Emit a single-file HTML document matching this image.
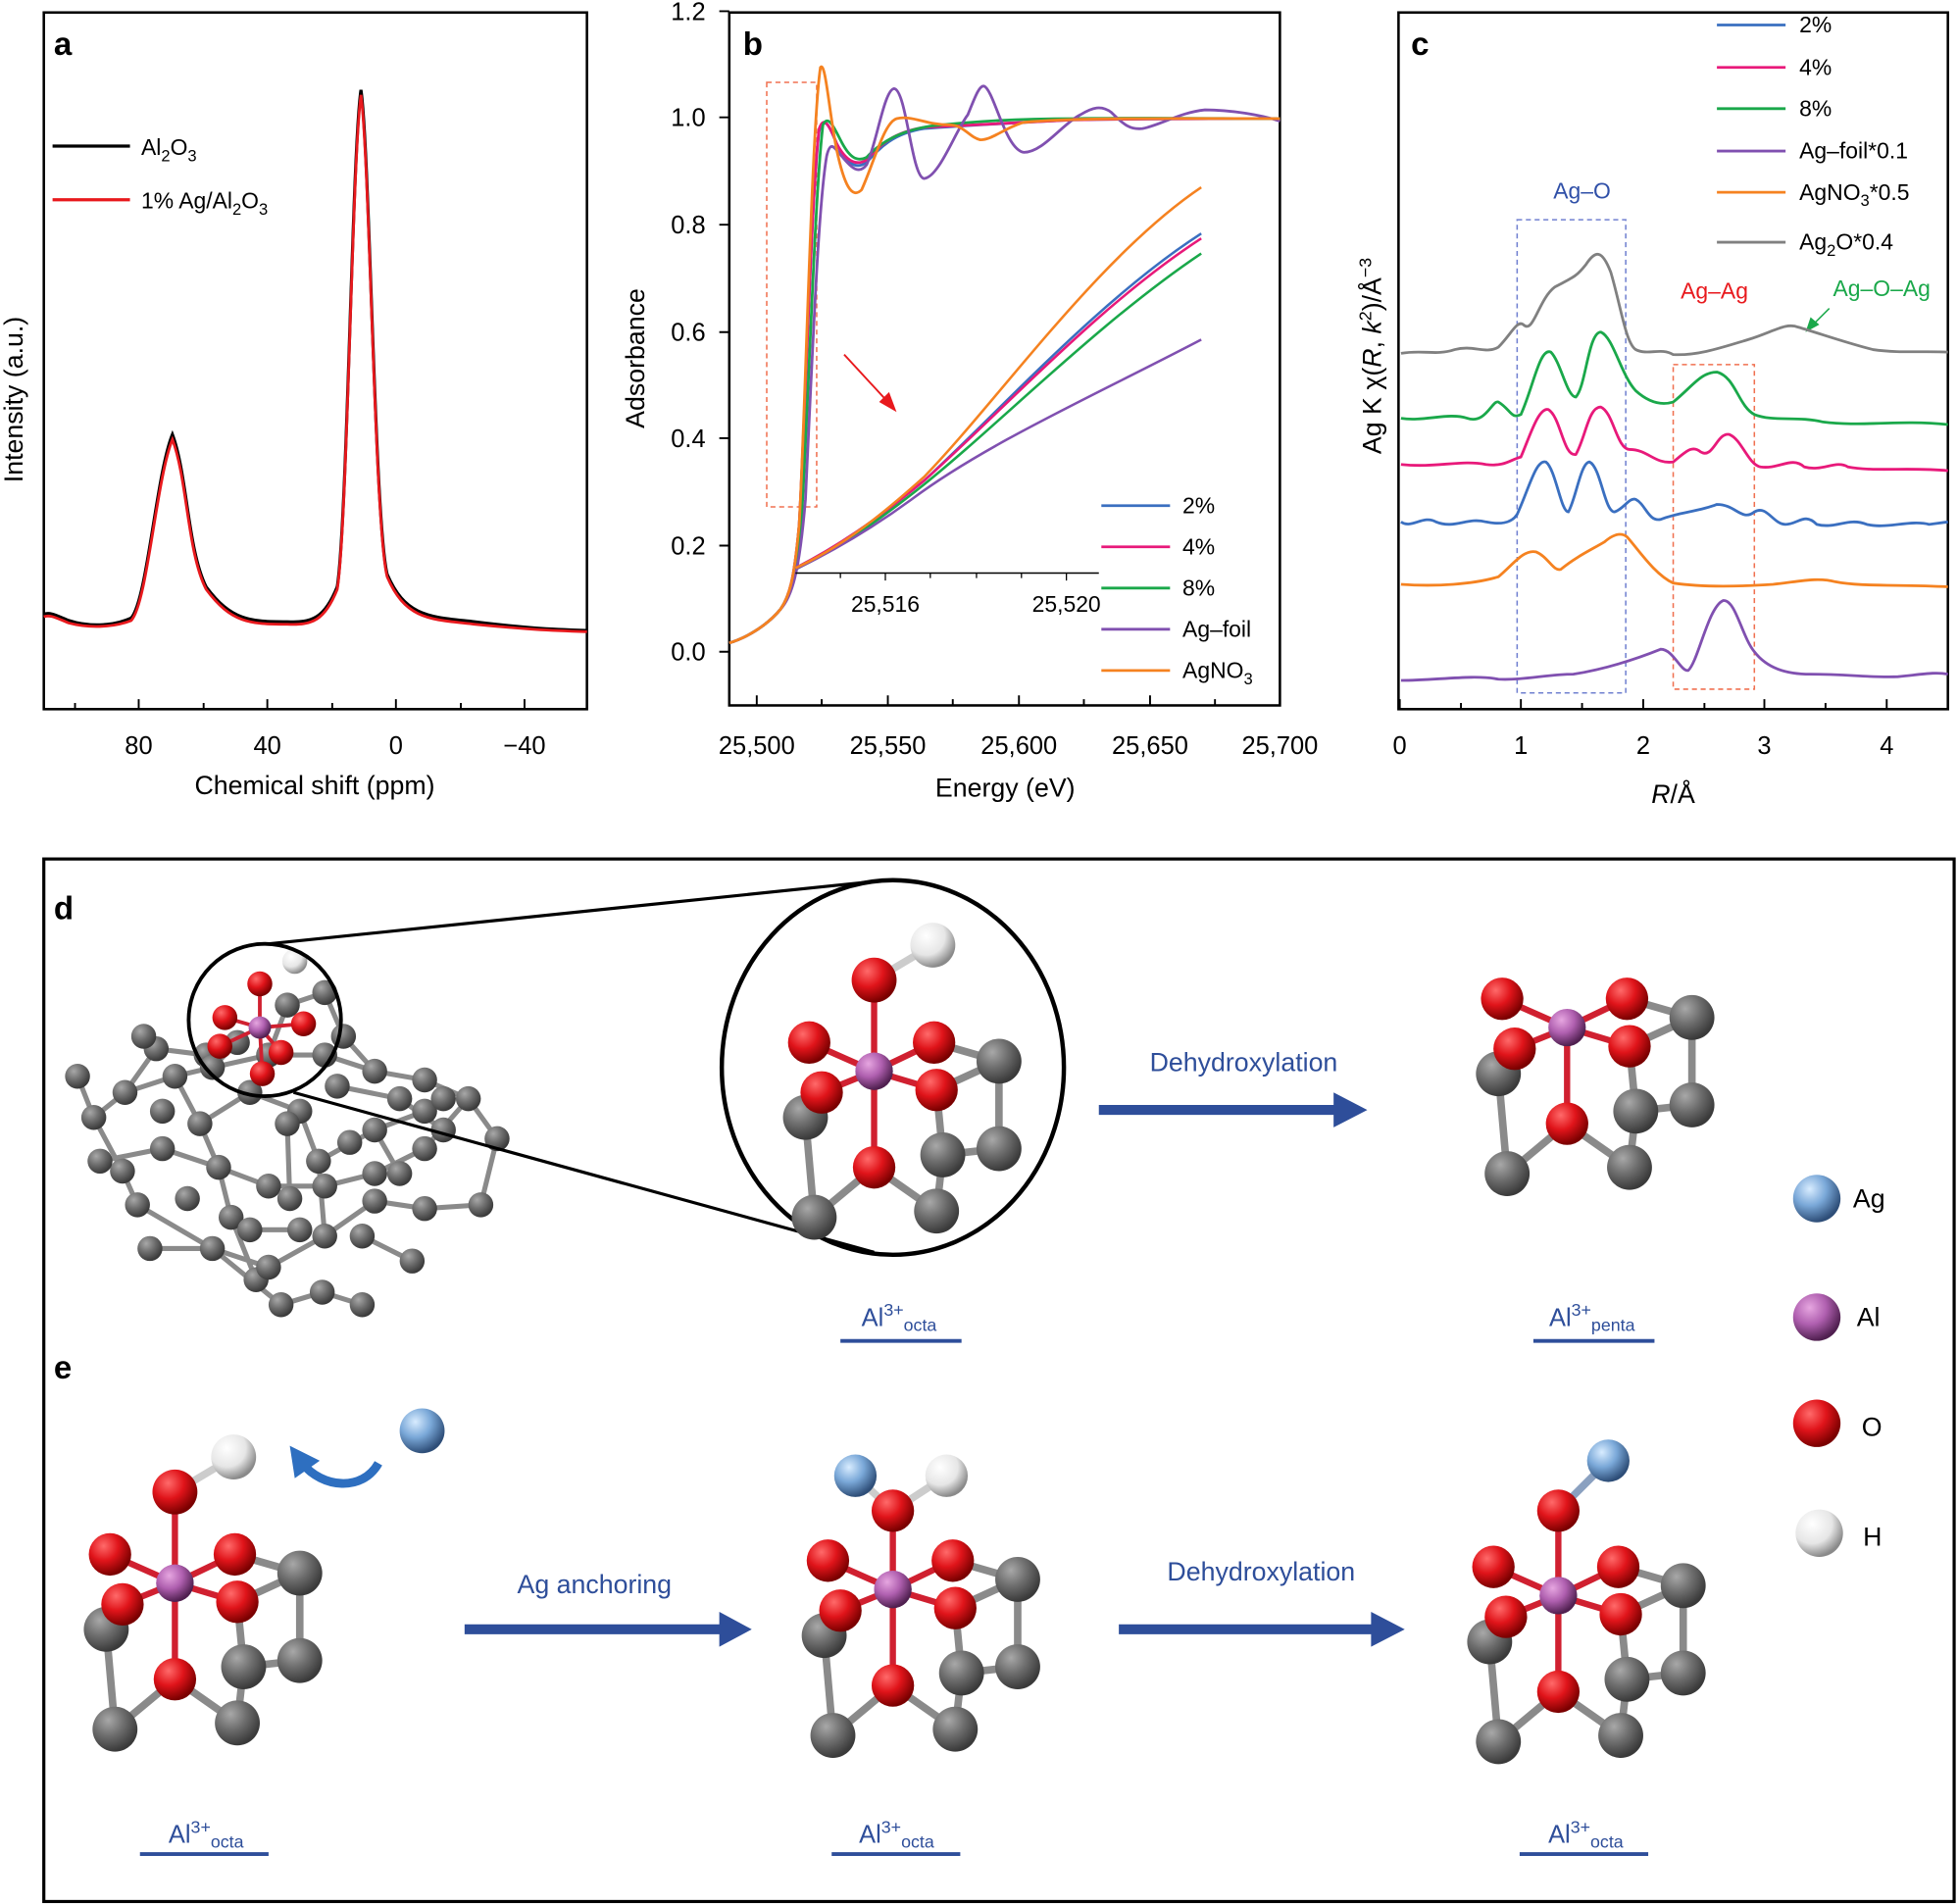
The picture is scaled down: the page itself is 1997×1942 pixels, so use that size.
<!DOCTYPE html>
<html><head><meta charset="utf-8"><style>
html,body{margin:0;padding:0;background:#fff}
svg{display:block}
text{font-family:"Liberation Sans",Arial,sans-serif}
</style></head><body>
<svg width="1997" height="1942" viewBox="0 0 1568 1525" xmlns="http://www.w3.org/2000/svg">
<defs>
<radialGradient id="gG" cx="35%" cy="30%" r="70%"><stop offset="0" stop-color="#a8a8a8"/><stop offset="0.5" stop-color="#6e6e6e"/><stop offset="1" stop-color="#3a3a3a"/></radialGradient>
<radialGradient id="gR" cx="35%" cy="30%" r="70%"><stop offset="0" stop-color="#ff6a6a"/><stop offset="0.5" stop-color="#e0141a"/><stop offset="1" stop-color="#7a0000"/></radialGradient>
<radialGradient id="gP" cx="35%" cy="30%" r="70%"><stop offset="0" stop-color="#e6a6e0"/><stop offset="0.5" stop-color="#b060b0"/><stop offset="1" stop-color="#502050"/></radialGradient>
<radialGradient id="gW" cx="35%" cy="30%" r="70%"><stop offset="0" stop-color="#ffffff"/><stop offset="0.6" stop-color="#e6e6e6"/><stop offset="1" stop-color="#8a8a8a"/></radialGradient>
<radialGradient id="gB" cx="35%" cy="30%" r="70%"><stop offset="0" stop-color="#d8ecff"/><stop offset="0.5" stop-color="#7aa8d8"/><stop offset="1" stop-color="#2e4e78"/></radialGradient>
<g id="mol">
 <g stroke="#8a8a8a" stroke-width="6" fill="none">
  <path d="M85 1305 L92 1385 M98 1285 L85 1305 M140 1345 L92 1385 M140 1345 L190 1380 M190 1283 L240 1260 L240 1330 L195 1335 L190 1380 M188 1245 L240 1260 M190 1283 L195 1335"/>
 </g>
 <g stroke="#d02030" stroke-width="5"><path d="M140 1268 L88 1245 M140 1268 L98 1285 M140 1268 L188 1245 M140 1268 L190 1283 M140 1268 L140 1345"/></g>
 <circle cx="85" cy="1305" r="18" fill="url(#gG)"/><circle cx="92" cy="1385" r="18" fill="url(#gG)"/><circle cx="190" cy="1380" r="18" fill="url(#gG)"/><circle cx="240" cy="1260" r="18" fill="url(#gG)"/><circle cx="240" cy="1330" r="18" fill="url(#gG)"/><circle cx="195" cy="1335" r="18" fill="url(#gG)"/>
 <circle cx="88" cy="1245" r="17" fill="url(#gR)"/><circle cx="98" cy="1285" r="17" fill="url(#gR)"/><circle cx="188" cy="1245" r="17" fill="url(#gR)"/><circle cx="190" cy="1283" r="17" fill="url(#gR)"/><circle cx="140" cy="1345" r="17" fill="url(#gR)"/>
 <circle cx="140" cy="1268" r="15" fill="url(#gP)"/>
</g>
</defs>

<!-- Panel a -->
<rect x="35" y="10" width="435" height="558" fill="none" stroke="#000" stroke-width="2"/>
<text x="43" y="44" font-size="26" font-weight="bold">a</text>
<g stroke="#000" stroke-width="1.5"><path d="M111 568v-8M214 568v-8M317 568v-8M420 568v-8M60 568v-5M163 568v-5M266 568v-5M369 568v-5"/></g>
<g font-size="20" text-anchor="middle"><text x="111" y="604">80</text><text x="214" y="604">40</text><text x="317" y="604">0</text><text x="420" y="604">−40</text></g>
<text x="252" y="636" font-size="21" text-anchor="middle">Chemical shift (ppm)</text>
<text transform="translate(18,320) rotate(-90)" font-size="21" text-anchor="middle">Intensity (a.u.)</text>
<path d="M35 492 C40 490 45 493 55 497 C70 502 90 502 105 495 C118 480 125 380 138 348 C150 380 150 440 165 470 C185 497 200 498 230 498 C250 499 260 495 270 470 C278 420 282 120 289 72 C296 120 300 420 310 460 C325 495 345 494 380 498 C420 503 440 504 470 505" fill="none" stroke="#000" stroke-width="2.5"/>
<path d="M35 494 C40 492 45 495 55 499 C70 503 90 503 105 497 C118 483 125 384 138 352 C150 384 150 443 165 472 C185 499 200 500 230 500 C250 501 260 497 270 472 C278 424 282 126 289 76 C296 126 300 424 310 462 C325 497 345 496 380 500 C420 504 440 505 470 506" fill="none" stroke="#e8191d" stroke-width="2.2"/>
<line x1="42" y1="117" x2="104" y2="117" stroke="#000" stroke-width="2.5"/>
<text x="113" y="124" font-size="18">Al<tspan font-size="13" dy="5">2</tspan><tspan dy="-5">O</tspan><tspan font-size="13" dy="5">3</tspan></text>
<line x1="42" y1="160" x2="104" y2="160" stroke="#e8191d" stroke-width="2.5"/>
<text x="113" y="167" font-size="18">1% Ag/Al<tspan font-size="13" dy="5">2</tspan><tspan dy="-5">O</tspan><tspan font-size="13" dy="5">3</tspan></text>

<!-- Panel b -->
<rect x="584" y="10" width="441" height="555" fill="none" stroke="#000" stroke-width="2"/>
<text x="595" y="44" font-size="26" font-weight="bold">b</text>
<g stroke="#000" stroke-width="1.5"><path d="M584 522h-8M584 437h-8M584 351h-8M584 266h-8M584 180h-8M584 94h-8M584 9h-8M606 565v-8M711 565v-8M816 565v-8M921 565v-8M658 565v-5M763 565v-5M868 565v-5M973 565v-5"/></g>
<g font-size="20" text-anchor="end"><text x="565" y="529">0.0</text><text x="565" y="444">0.2</text><text x="565" y="358">0.4</text><text x="565" y="273">0.6</text><text x="565" y="187">0.8</text><text x="565" y="101">1.0</text><text x="565" y="16">1.2</text></g>
<g font-size="20" text-anchor="middle"><text x="606" y="604">25,500</text><text x="711" y="604">25,550</text><text x="816" y="604">25,600</text><text x="921" y="604">25,650</text><text x="1025" y="604">25,700</text></g>
<text x="805" y="638" font-size="21" text-anchor="middle">Energy (eV)</text>
<text transform="translate(516,287) rotate(-90)" font-size="21" text-anchor="middle">Adsorbance</text>
<rect x="614" y="66" width="40" height="340" fill="none" stroke="#f07050" stroke-width="1.2" stroke-dasharray="4,3"/>
<path d="M584 515 C600 510 615 500 625 488 C632 478 636 465 640 420 C645 330 650 150 656 105 C660 92 664 100 670 115 C678 132 686 136 694 130 C705 118 715 107 740 103 C780 100 820 98 860 96 C920 95 980 95 1025 95" fill="none" stroke="#3a6fc0" stroke-width="2.2"/>
<path d="M584 515 C600 510 615 500 625 488 C632 478 636 465 640 420 C645 330 650 150 656 103 C660 92 664 100 670 115 C678 130 686 133 694 128 C705 116 715 106 740 102 C780 100 820 98 860 96 C920 95 980 95 1025 95" fill="none" stroke="#e8197a" stroke-width="2.2"/>
<path d="M584 515 C600 510 615 500 625 488 C632 478 636 465 641 430 C647 340 652 160 659 100 C663 92 667 100 673 112 C680 126 686 130 694 126 C705 114 720 105 745 101 C780 97 820 95 860 95 C920 94 980 95 1025 95" fill="none" stroke="#1aa84a" stroke-width="2.2"/>
<path d="M584 515 C600 510 615 500 625 488 C634 478 640 460 645 400 C652 250 656 160 662 125 C665 112 668 118 674 125 C682 135 688 140 694 132 C702 115 708 72 716 71 C726 72 730 142 740 143 C752 142 765 105 775 92 C780 80 784 68 788 69 C796 72 805 120 820 122 C835 122 850 100 865 92 C875 86 882 84 890 90 C900 100 905 104 915 103 C930 100 945 90 965 88 C985 88 1010 92 1025 97" fill="none" stroke="#8050b0" stroke-width="2.2"/>
<path d="M584 515 C600 510 615 500 625 488 C632 478 636 465 640 420 C645 330 650 100 657 54 C661 48 664 90 670 120 C676 148 682 160 690 152 C700 130 708 98 718 95 C730 92 742 100 760 100 C772 100 776 110 785 112 C795 112 805 102 820 98 C860 94 940 95 1025 95" fill="none" stroke="#f58220" stroke-width="2.2"/>
<!-- inset -->
<path d="M637 459 H880" stroke="#000" stroke-width="1.2" fill="none"/>
<g stroke="#000" stroke-width="1"><path d="M709 459v6M854 459v6M673 459v4M745 459v4M782 459v4M818 459v4"/></g>
<g font-size="18" text-anchor="middle"><text x="709" y="490">25,516</text><text x="854" y="490">25,520</text></g>
<path d="M637 455 C670 438 700 418 740 385 C800 330 880 240 962 187" fill="none" stroke="#3a6fc0" stroke-width="2"/>
<path d="M637 455 C670 438 700 418 740 385 C800 332 880 244 962 191" fill="none" stroke="#e8197a" stroke-width="2"/>
<path d="M637 456 C670 440 700 420 740 388 C800 340 880 258 962 203" fill="none" stroke="#1aa84a" stroke-width="2"/>
<path d="M637 456 C670 440 700 422 730 400 C790 355 880 315 962 272" fill="none" stroke="#8050b0" stroke-width="2"/>
<path d="M637 455 C670 440 700 418 740 382 C800 320 880 205 962 150" fill="none" stroke="#f58220" stroke-width="2"/>
<path d="M676 284 L712 323" stroke="#e8191d" stroke-width="1.5"/><path d="M718 330 L704 322 L712 314 Z" fill="#e8191d"/>
<g stroke-width="2.2"><line x1="882" y1="405" x2="937" y2="405" stroke="#3a6fc0"/><line x1="882" y1="438" x2="937" y2="438" stroke="#e8197a"/><line x1="882" y1="471" x2="937" y2="471" stroke="#1aa84a"/><line x1="882" y1="504" x2="937" y2="504" stroke="#8050b0"/><line x1="882" y1="537" x2="937" y2="537" stroke="#f58220"/></g>
<g font-size="18"><text x="947" y="411">2%</text><text x="947" y="444">4%</text><text x="947" y="477">8%</text><text x="947" y="510">Ag–foil</text><text x="947" y="543">AgNO<tspan font-size="13" dy="5">3</tspan></text></g>

<!-- Panel c -->
<rect x="1120" y="10" width="440" height="558" fill="none" stroke="#000" stroke-width="2"/>
<text x="1130" y="44" font-size="26" font-weight="bold">c</text>
<g stroke="#000" stroke-width="1.5"><path d="M1121 568v-8M1218 568v-8M1316 568v-8M1413 568v-8M1511 568v-8M1170 568v-5M1267 568v-5M1365 568v-5M1462 568v-5"/></g>
<g font-size="20" text-anchor="middle"><text x="1121" y="604">0</text><text x="1218" y="604">1</text><text x="1316" y="604">2</text><text x="1413" y="604">3</text><text x="1511" y="604">4</text></g>
<text x="1340" y="643" font-size="21" text-anchor="middle"><tspan font-style="italic">R</tspan>/Å</text>
<text transform="translate(1106,285) rotate(-90)" font-size="21" text-anchor="middle">Ag K  χ(<tspan font-style="italic">R</tspan>, <tspan font-style="italic">k</tspan><tspan font-size="14" dy="-8">2</tspan><tspan dy="8">)/Å</tspan><tspan font-size="14" dy="-8">−3</tspan></text>
<rect x="1215" y="176" width="87" height="379" fill="none" stroke="#7080d0" stroke-width="1.2" stroke-dasharray="4,3"/>
<rect x="1340" y="292" width="65" height="260" fill="none" stroke="#f07050" stroke-width="1.2" stroke-dasharray="4,3"/>
<text x="1267" y="159" font-size="18" fill="#3050a8" text-anchor="middle">Ag–O</text>
<text x="1373" y="239" font-size="18" fill="#e8191d" text-anchor="middle">Ag–Ag</text>
<text x="1507" y="237" font-size="18" fill="#1aa84a" text-anchor="middle">Ag–O–Ag</text>
<path d="M1465 247 L1450 262" stroke="#1aa84a" stroke-width="1.2"/><path d="M1446 266 L1450 254 L1457 260 Z" fill="#1aa84a"/>
<path d="M1122 283 C1140 280 1150 285 1165 280 C1180 276 1190 284 1200 278 C1210 268 1215 256 1220 260 C1228 268 1232 240 1245 230 C1260 222 1262 222 1270 212 C1278 200 1283 200 1290 218 C1298 245 1302 275 1310 280 C1320 285 1330 278 1340 284 C1360 285 1380 278 1400 272 C1420 266 1430 258 1440 262 C1460 268 1480 275 1500 280 C1520 283 1540 281 1560 282" fill="none" stroke="#808080" stroke-width="2.2"/>
<path d="M1122 335 C1140 338 1160 330 1175 335 C1190 340 1195 320 1200 322 C1210 328 1210 336 1218 332 C1228 310 1233 278 1242 282 C1250 290 1255 318 1262 318 C1270 310 1272 266 1282 266 C1292 270 1298 300 1310 313 C1320 322 1330 325 1340 322 C1355 310 1362 298 1375 298 C1390 302 1392 325 1405 332 C1420 338 1440 333 1460 338 C1490 342 1520 336 1560 340" fill="none" stroke="#1aa84a" stroke-width="2.2"/>
<path d="M1122 372 C1150 375 1170 368 1190 372 C1205 374 1210 368 1218 366 C1225 350 1232 326 1240 328 C1250 334 1252 366 1262 364 C1270 350 1272 326 1282 326 C1292 330 1295 360 1305 360 C1320 360 1325 372 1340 370 C1350 362 1355 356 1362 362 C1372 368 1375 346 1385 348 C1395 352 1400 372 1410 374 C1425 376 1435 365 1445 374 C1460 378 1470 368 1480 374 C1500 378 1530 374 1560 377" fill="none" stroke="#e8197a" stroke-width="2.2"/>
<path d="M1122 418 C1130 424 1140 412 1150 418 C1165 424 1175 414 1190 418 C1200 420 1210 420 1215 412 C1225 390 1230 368 1238 370 C1246 376 1250 410 1256 410 C1262 400 1266 370 1273 370 C1282 374 1285 410 1293 410 C1300 408 1305 398 1310 400 C1318 404 1320 418 1330 416 C1345 410 1360 410 1375 404 C1390 404 1395 418 1405 410 C1415 404 1420 420 1430 420 C1440 420 1445 410 1455 420 C1470 424 1480 414 1495 420 C1510 424 1530 416 1545 420 L1560 418" fill="none" stroke="#3a6fc0" stroke-width="2.2"/>
<path d="M1122 468 C1150 470 1180 468 1200 462 C1212 452 1220 440 1230 442 C1240 446 1244 458 1250 456 C1262 446 1275 440 1285 434 C1292 428 1298 426 1303 430 C1312 440 1325 460 1340 467 C1360 470 1390 470 1420 468 C1440 466 1455 462 1470 466 C1490 470 1520 468 1560 470" fill="none" stroke="#f58220" stroke-width="2.2"/>
<path d="M1122 545 C1150 545 1180 540 1200 544 C1220 545 1240 540 1260 540 C1285 536 1310 528 1330 520 C1340 520 1346 538 1352 537 C1360 530 1368 486 1380 481 C1390 480 1395 510 1405 522 C1415 535 1430 540 1450 540 C1480 540 1500 543 1520 542 C1540 540 1550 538 1560 540" fill="none" stroke="#8050b0" stroke-width="2.2"/>
<g stroke-width="2.2"><line x1="1375" y1="20" x2="1430" y2="20" stroke="#3a6fc0"/><line x1="1375" y1="54" x2="1430" y2="54" stroke="#e8197a"/><line x1="1375" y1="87" x2="1430" y2="87" stroke="#1aa84a"/><line x1="1375" y1="121" x2="1430" y2="121" stroke="#8050b0"/><line x1="1375" y1="154" x2="1430" y2="154" stroke="#f58220"/><line x1="1375" y1="194" x2="1430" y2="194" stroke="#808080"/></g>
<g font-size="18"><text x="1441" y="26">2%</text><text x="1441" y="60">4%</text><text x="1441" y="93">8%</text><text x="1441" y="127">Ag–foil*0.1</text><text x="1441" y="160">AgNO<tspan font-size="13" dy="5">3</tspan><tspan dy="-5">*0.5</tspan></text><text x="1441" y="200">Ag<tspan font-size="13" dy="5">2</tspan><tspan dy="-5">O*0.4</tspan></text></g>

<!-- Panel d/e -->
<rect x="35" y="688" width="1530" height="835" fill="none" stroke="#000" stroke-width="2.5"/>
<text x="43" y="736" font-size="26" font-weight="bold">d</text>
<text x="43" y="1104" font-size="26" font-weight="bold">e</text>

<!-- cluster -->
<g stroke="#8a8a8a" stroke-width="4" fill="none">
<path d="M62 862 L75 895 L98 938 L110 965 L170 1000 L225 1045 L258 1035 L290 1045 M75 895 L100 875 L140 862 L170 855 L215 845 L260 845 L300 858 L340 865 L375 880 L398 912 L385 965 L340 968 L300 962 L260 990 L215 1015 L170 1000 M100 875 L125 840 L165 845 M140 862 L160 900 L175 935 L215 950 L260 950 L300 940 L340 920 L375 880 M160 900 L200 875 L240 890 L255 930 L300 905 L340 890 M115 830 L125 840 M175 935 L185 975 L205 1025 M255 930 L260 990 M300 905 L320 940 M215 845 L230 805 L260 795 L275 830 L300 858 M230 900 L232 960 M170 855 L190 835 M80 930 L130 920 L175 935 M270 870 L320 880 L355 905 M120 1000 L170 1000 M200 985 L240 985 M290 990 L330 1010"/>
</g>
<g fill="url(#gG)">
<circle cx="62" cy="862" r="10"/><circle cx="75" cy="895" r="10"/><circle cx="98" cy="938" r="10"/><circle cx="110" cy="965" r="10"/><circle cx="100" cy="875" r="10"/><circle cx="125" cy="840" r="10"/><circle cx="115" cy="830" r="10"/><circle cx="140" cy="862" r="10"/><circle cx="165" cy="845" r="10"/><circle cx="170" cy="855" r="10"/><circle cx="190" cy="835" r="10"/><circle cx="160" cy="900" r="10"/><circle cx="175" cy="935" r="10"/><circle cx="200" cy="875" r="10"/><circle cx="215" cy="845" r="10"/><circle cx="240" cy="890" r="10"/><circle cx="255" cy="930" r="10"/><circle cx="215" cy="950" r="10"/><circle cx="230" cy="900" r="10"/><circle cx="232" cy="960" r="10"/><circle cx="185" cy="975" r="10"/><circle cx="170" cy="1000" r="10"/><circle cx="205" cy="1025" r="10"/><circle cx="225" cy="1045" r="10"/><circle cx="258" cy="1035" r="10"/><circle cx="215" cy="1015" r="10"/><circle cx="260" cy="990" r="10"/><circle cx="260" cy="950" r="10"/><circle cx="300" cy="940" r="10"/><circle cx="300" cy="962" r="10"/><circle cx="320" cy="940" r="10"/><circle cx="340" cy="968" r="10"/><circle cx="385" cy="965" r="10"/><circle cx="398" cy="912" r="10"/><circle cx="375" cy="880" r="10"/><circle cx="340" cy="920" r="10"/><circle cx="340" cy="890" r="10"/><circle cx="340" cy="865" r="10"/><circle cx="300" cy="905" r="10"/><circle cx="300" cy="858" r="10"/><circle cx="260" cy="845" r="10"/><circle cx="275" cy="830" r="10"/><circle cx="260" cy="795" r="10"/><circle cx="230" cy="805" r="10"/><circle cx="290" cy="1045" r="10"/><circle cx="355" cy="880" r="10"/><circle cx="130" cy="890" r="10"/><circle cx="80" cy="930" r="10"/><circle cx="130" cy="920" r="10"/><circle cx="270" cy="870" r="10"/><circle cx="320" cy="880" r="10"/><circle cx="355" cy="905" r="10"/><circle cx="120" cy="1000" r="10"/><circle cx="200" cy="985" r="10"/><circle cx="240" cy="985" r="10"/><circle cx="290" cy="990" r="10"/><circle cx="330" cy="1010" r="10"/><circle cx="150" cy="960" r="10"/><circle cx="280" cy="915" r="10"/>
</g>
<g stroke="#d02030" stroke-width="3"><path d="M208 823 L208 788 M208 823 L180 815 M208 823 L176 838 M208 823 L243 820 M208 823 L225 843 M208 823 L210 860"/></g>
<circle cx="208" cy="788" r="10" fill="url(#gR)"/><circle cx="236" cy="770" r="10" fill="url(#gW)"/><circle cx="180" cy="815" r="10" fill="url(#gR)"/><circle cx="176" cy="838" r="10" fill="url(#gR)"/><circle cx="243" cy="820" r="10" fill="url(#gR)"/><circle cx="225" cy="843" r="10" fill="url(#gR)"/><circle cx="210" cy="860" r="10" fill="url(#gR)"/><circle cx="208" cy="823" r="9" fill="url(#gP)"/>
<circle cx="212" cy="817" r="61" fill="none" stroke="#000" stroke-width="3"/>
<line x1="215" y1="756" x2="700" y2="706" stroke="#000" stroke-width="2.5"/>
<line x1="235" y1="875" x2="700" y2="1003" stroke="#000" stroke-width="2.5"/>
<ellipse cx="715" cy="855" rx="137" ry="150" fill="none" stroke="#000" stroke-width="3.5"/>
<g transform="translate(560,-410)"><use href="#mol"/><path d="M140 1268 L140 1195" stroke="#d02030" stroke-width="5"/><path d="M140 1195 L187 1167" stroke="#ccc" stroke-width="6"/><circle cx="140" cy="1195" r="18" fill="url(#gR)"/><circle cx="187" cy="1167" r="18" fill="url(#gW)"/><circle cx="140" cy="1268" r="15" fill="url(#gP)"/></g>

<text x="996" y="858" font-size="21" fill="#2e4e9a" text-anchor="middle">Dehydroxylation</text>
<path d="M880 889 H1070" stroke="#2e4e9a" stroke-width="8"/><path d="M1068 875 L1095 889 L1068 903 Z" fill="#2e4e9a"/>
<g transform="translate(1115,-445)"><use href="#mol"/></g>

<g font-size="20" fill="#2e4e9a" text-anchor="middle">
<text x="720" y="1062">Al<tspan font-size="14" dy="-8">3+</tspan><tspan font-size="14" dy="12">octa</tspan></text>
<text x="1275" y="1062">Al<tspan font-size="14" dy="-8">3+</tspan><tspan font-size="14" dy="12">penta</tspan></text>
<text x="165" y="1476">Al<tspan font-size="14" dy="-8">3+</tspan><tspan font-size="14" dy="12">octa</tspan></text>
<text x="718" y="1476">Al<tspan font-size="14" dy="-8">3+</tspan><tspan font-size="14" dy="12">octa</tspan></text>
<text x="1270" y="1476">Al<tspan font-size="14" dy="-8">3+</tspan><tspan font-size="14" dy="12">octa</tspan></text>
</g>
<g stroke="#2e4e9a" stroke-width="3"><path d="M673 1074 H770 M1228 1074 H1325 M112 1485 H215 M666 1485 H769 M1217 1485 H1320"/></g>

<!-- e -->
<g><use href="#mol"/><path d="M140 1268 L140 1195" stroke="#d02030" stroke-width="5"/><path d="M140 1195 L187 1167" stroke="#ccc" stroke-width="6"/><circle cx="140" cy="1195" r="18" fill="url(#gR)"/><circle cx="187" cy="1167" r="18" fill="url(#gW)"/><circle cx="140" cy="1268" r="15" fill="url(#gP)"/></g>
<circle cx="338" cy="1146" r="18" fill="url(#gB)"/>
<path d="M303 1172 C290 1195 258 1192 242 1172" fill="none" stroke="#2e6fc0" stroke-width="7"/><path d="M232 1158 L256 1170 L236 1184 Z" fill="#2e6fc0"/>
<text x="476" y="1276" font-size="21" fill="#2e4e9a" text-anchor="middle">Ag anchoring</text>
<path d="M372 1305 H578" stroke="#2e4e9a" stroke-width="8"/><path d="M576 1291 L602 1305 L576 1319 Z" fill="#2e4e9a"/>
<g transform="translate(575,5)"><use href="#mol"/><path d="M140 1268 L140 1205" stroke="#d02030" stroke-width="5"/><path d="M140 1205 L110 1177 M140 1205 L183 1177" stroke="#ccc" stroke-width="6"/><circle cx="140" cy="1205" r="17" fill="url(#gR)"/><circle cx="110" cy="1177" r="17" fill="url(#gB)"/><circle cx="183" cy="1177" r="17" fill="url(#gW)"/><circle cx="140" cy="1268" r="15" fill="url(#gP)"/></g>
<text x="1010" y="1266" font-size="21" fill="#2e4e9a" text-anchor="middle">Dehydroxylation</text>
<path d="M896 1305 H1100" stroke="#2e4e9a" stroke-width="8"/><path d="M1098 1291 L1125 1305 L1098 1319 Z" fill="#2e4e9a"/>
<g transform="translate(1108,10)"><use href="#mol"/><path d="M140 1268 L140 1200" stroke="#d02030" stroke-width="5"/><path d="M140 1200 L180 1160" stroke="#8aa0c0" stroke-width="6"/><circle cx="140" cy="1200" r="17" fill="url(#gR)"/><circle cx="180" cy="1160" r="17" fill="url(#gB)"/><circle cx="140" cy="1268" r="15" fill="url(#gP)"/></g>

<!-- legend atoms -->
<circle cx="1455" cy="960" r="19" fill="url(#gB)"/><text x="1484" y="967" font-size="21">Ag</text>
<circle cx="1455" cy="1055" r="19" fill="url(#gP)"/><text x="1487" y="1062" font-size="21">Al</text>
<circle cx="1455" cy="1140" r="19" fill="url(#gR)"/><text x="1491" y="1150" font-size="21">O</text>
<circle cx="1457" cy="1228" r="19" fill="url(#gW)"/><text x="1492" y="1238" font-size="21">H</text>
</svg>
</body></html>
